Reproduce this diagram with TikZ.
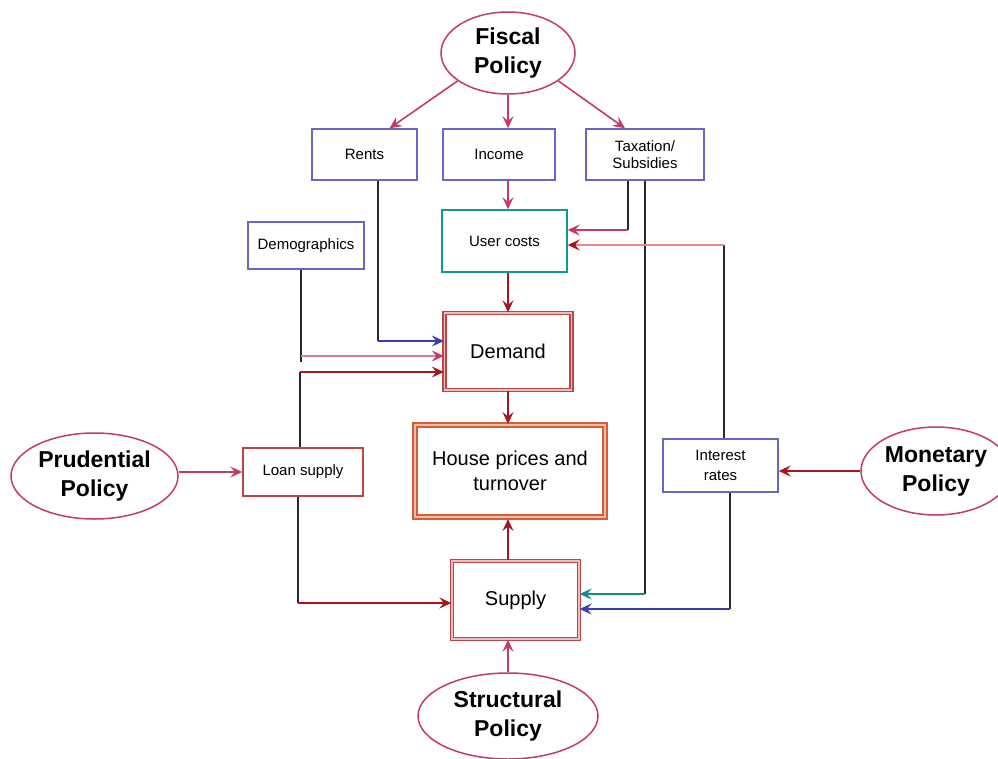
\documentclass[tikz,border=0pt]{standalone}
\usepackage{fontspec}
\setmainfont{Liberation Sans}
\usetikzlibrary{arrows.meta,shapes.geometric,calc}
\definecolor{bbox}{RGB}{102,102,204}
\definecolor{tealb}{RGB}{20,150,150}
\definecolor{redb}{RGB}{184,70,70}
\definecolor{redgap}{RGB}{240,190,190}
\definecolor{orb}{RGB}{208,96,60}
\definecolor{orgap}{RGB}{240,186,164}
\definecolor{mag}{RGB}{194,58,110}
\definecolor{lpink}{RGB}{222,120,160}
\definecolor{dred}{RGB}{170,20,30}
\definecolor{lred}{RGB}{228,140,140}
\definecolor{blu}{RGB}{60,60,180}
\definecolor{tealA}{RGB}{20,140,140}
\definecolor{blk}{RGB}{40,40,40}
\tikzset{
  tip/.style={-{Stealth[length=12pt,width=11pt,inset=4.5pt]}},
  smallbox/.style={draw=bbox,line width=1.4pt,fill=white,inner sep=0pt,align=center,
     font=\fontsize{15}{18}\selectfont},
  policy/.style={ellipse,draw=mag,line width=1.5pt,inner sep=0pt,align=center,
     font=\fontsize{23}{29}\selectfont\bfseries},
  conn/.style={line width=1.6pt},
  bigtext/.style={font=\fontsize{20}{25}\selectfont,align=center,inner sep=0pt}
}
\begin{document}
\begin{tikzpicture}[x=1pt,y=-1pt]
\useasboundingbox (0,0) rectangle (998,758);
\fill[white] (0,0) rectangle (998,758);

% policies
\node[policy,minimum width=134pt,minimum height=82pt] (fiscal) at (508,53) {Fiscal\\Policy};
\node[policy,minimum width=167pt,minimum height=86pt] (prud) at (94.5,476) {Prudential\\Policy};
\node[policy,minimum width=180pt,minimum height=86pt] (struct) at (508,716) {Structural\\Policy};
\node[policy,minimum width=150pt,minimum height=88pt] (mon) at (936,471) {Monetary\\Policy};

% small boxes
\node[smallbox,minimum width=105pt,minimum height=51pt] (rents) at (364.5,154.5) {Rents};
\node[smallbox,minimum width=112pt,minimum height=51pt] (income) at (499,154.5) {Income};
\node[smallbox,minimum width=118pt,minimum height=51pt,font=\fontsize{15}{17}\selectfont] (tax) at (645,154.5) {Taxation/\\Subsidies};
\node[smallbox,minimum width=116pt,minimum height=47pt] (demo) at (306,245.5) {Demographics};
\node[smallbox,draw=tealb,minimum width=125pt,minimum height=62pt] (uc) at (504.5,241) {User costs};
\node[smallbox,draw=redb,minimum width=120pt,minimum height=48pt] (loan) at (303,472) {Loan supply};
\node[smallbox,minimum width=115pt,minimum height=53pt,font=\fontsize{15}{20}\selectfont] (ir) at (720.5,465.5) {Interest\\rates};

% main boxes
\node[bigtext,draw=redb,line width=1.3pt,double=redgap,double distance=1.5pt,
      minimum width=127pt,minimum height=77pt] (demand) at (508,351.5) {Demand};
\node[bigtext,draw=orb,line width=2pt,double=orgap,double distance=2pt,
      minimum width=190pt,minimum height=92pt] (house) at (510,471) {House prices and\\turnover};
\node[bigtext,draw=redb,line width=1.3pt,double=redgap,double distance=1.5pt,
      minimum width=127pt,minimum height=78pt] (supply) at (515.5,600) {Supply};

% fiscal arrows
\draw[conn,tip,mag] (fiscal.209) -- ([xshift=25pt]rents.north);
\draw[conn,tip,mag] (fiscal.south) -- (fiscal.south |- income.north);
\draw[conn,tip,mag] (fiscal.331) -- ([xshift=-20pt]tax.north);
\draw[conn,tip,mag] (fiscal.south |- income.south) -- (fiscal.south |- uc.north);
\draw[conn,tip,dred] (demand.north |- uc.south) -- (demand.north);
\draw[conn,tip,dred] (demand.south) -- (demand.south |- house.north);

% rents -> demand
\coordinate (rk) at (378,341);
\draw[conn,blk] (rents.south -| rk) -- (rk);
\draw[conn,tip,blu] (rk) -- (demand.west |- rk);

% demographics -> demand
\coordinate (dk) at (301,356);
\draw[conn,blk] (demo.south -| dk) -- (301,362);
\draw[conn,lpink] (dk) -- ($(demand.west |- dk)+(-6,0)$);
\draw[conn,tip,mag] ($(demand.west |- dk)+(-8,0)$) -- (demand.west |- dk);

% loan supply -> demand
\coordinate (lk) at (300,372);
\draw[conn,blk] (loan.north -| lk) -- (lk);
\draw[conn,tip,dred] (lk) -- (demand.west |- lk);

% prudential -> loan
\draw[conn,tip,mag] (prud.east |- loan.west) -- (loan.west);

% loan -> supply
\coordinate (lk2) at (298,603);
\draw[conn,blk] (loan.south -| lk2) -- (lk2);
\draw[conn,tip,dred] (lk2) -- (supply.west |- lk2);

% taxation -> user costs
\coordinate (tk) at (628,230);
\draw[conn,blk] (tax.south -| tk) -- (tk);
\draw[conn,tip,mag] (tk) -- (uc.east |- tk);

% taxation -> supply
\coordinate (tk2) at (645,594);
\draw[conn,blk] (tax.south -| tk2) -- (tk2);
\draw[conn,tip,tealA] (tk2) -- (supply.east |- tk2);

% interest -> user costs
\coordinate (ik) at (724,245);
\draw[conn,blk] (ir.north -| ik) -- (ik);
\draw[conn,lred] (ik) -- ($(uc.east |- ik)+(6,0)$);
\draw[conn,tip,dred] ($(uc.east |- ik)+(8,0)$) -- (uc.east |- ik);

% interest -> supply
\coordinate (ik2) at (730,609);
\draw[conn,blk] (ir.south -| ik2) -- (ik2);
\draw[conn,tip,blu] (ik2) -- (supply.east |- ik2);

% monetary -> interest
\draw[conn,tip,dred] (mon.west) -- (ir.east |- mon.west);

% supply -> house, structural -> supply
\draw[conn,tip,dred] (508,560) -- (508,519);
\draw[conn,tip,mag] (struct.north) -- (struct.north |- supply.south);
\end{tikzpicture}
\end{document}
